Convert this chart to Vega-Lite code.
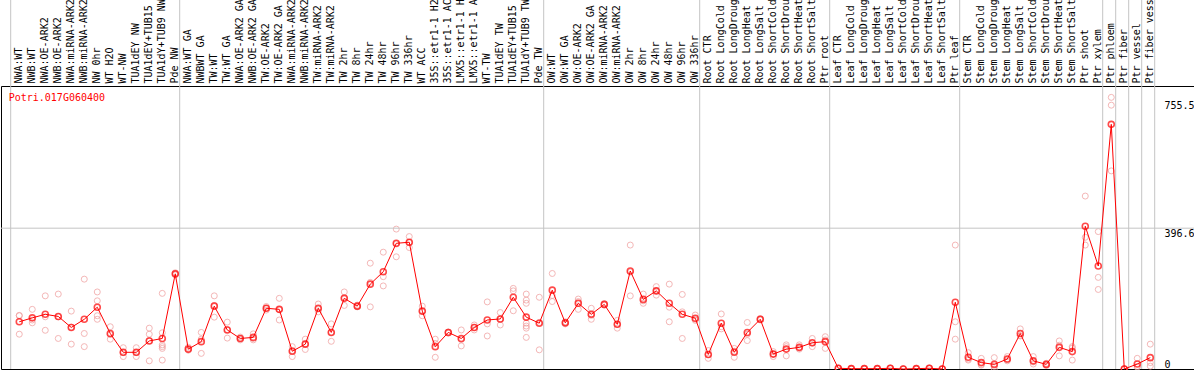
{
  "$schema": "https://vega.github.io/schema/vega-lite/v6.json",
  "width": 1193,
  "height": 283,
  "autosize": {"type": "none"},
  "padding": {"left": 1, "top": 86, "right": 0, "bottom": 1},
  "background": "white",
  "config": {"view": {"stroke": "black", "strokeWidth": 1}, "font": "DejaVu Sans Mono"},
  "resolve": {"axis": {"x": "independent", "y": "independent"}},
  "datasets": {
    "means": [
      {"category": "NWA:WT", "value": 133}, {"category": "NWB:WT", "value": 144}, {"category": "NWA:OE-ARK2", "value": 154}, {"category": "NWB:OE-ARK2", "value": 148},
      {"category": "NWA:miRNA-ARK2", "value": 117}, {"category": "NWB:miRNA-ARK2", "value": 140}, {"category": "NW 0hr", "value": 174}, {"category": "WT H2O", "value": 100},
      {"category": "WT-NW", "value": 47}, {"category": "TUA1dEY NW", "value": 47}, {"category": "TUA1dEY+TUB15 NW", "value": 79}, {"category": "TUA1dY+TUB9 NW", "value": 86},
      {"category": "Pde NW", "value": 268}, {"category": "NWA:WT GA", "value": 56}, {"category": "NWBWT GA", "value": 77}, {"category": "TW:WT", "value": 177},
      {"category": "TW:WT GA", "value": 110}, {"category": "NWA:OE-ARK2 GA", "value": 86}, {"category": "NWB:OE-ARK2 GA", "value": 89}, {"category": "TW:OE-ARK2", "value": 171},
      {"category": "TW:OE-ARK2 GA", "value": 168}, {"category": "NWA:miRNA-ARK2 GA", "value": 50}, {"category": "NWB:miRNA-ARK2 GA", "value": 70}, {"category": "TW:miRNA-ARK2", "value": 171},
      {"category": "TW:miRNA-ARK2 GA", "value": 103}, {"category": "TW 2hr", "value": 199}, {"category": "TW 8hr", "value": 177}, {"category": "TW 24hr", "value": 239},
      {"category": "TW 48hr", "value": 274}, {"category": "TW 96hr", "value": 354}, {"category": "TW 336hr", "value": 357}, {"category": "WT ACC", "value": 163},
      {"category": "35S::etr1-1 H2O", "value": 63}, {"category": "35S::etr1-1 ACC", "value": 103}, {"category": "LMX5::etr1-1 H2O", "value": 86}, {"category": "LMX5::etr1-1 ACC", "value": 117},
      {"category": "WT-TW", "value": 138}, {"category": "TUA1dEY TW", "value": 141}, {"category": "TUA1dEY+TUB15 TW", "value": 202}, {"category": "TUA1dY+TUB9 TW", "value": 146},
      {"category": "Pde TW", "value": 129}, {"category": "OW:WT", "value": 222}, {"category": "OW:WT GA", "value": 130}, {"category": "OW:OE-ARK2", "value": 185},
      {"category": "OW:OE-ARK2 GA", "value": 154}, {"category": "OW:miRNA-ARK2", "value": 182}, {"category": "OW:miRNA-ARK2 GA", "value": 126}, {"category": "OW 2hr", "value": 276},
      {"category": "OW 8hr", "value": 196}, {"category": "OW 24hr", "value": 220}, {"category": "OW 48hr", "value": 185}, {"category": "OW 96hr", "value": 154},
      {"category": "OW 336hr", "value": 143}, {"category": "Root CTR", "value": 41}, {"category": "Root LongCold", "value": 129}, {"category": "Root LongDrought", "value": 47},
      {"category": "Root LongHeat", "value": 103}, {"category": "Root LongSalt", "value": 140}, {"category": "Root ShortCold", "value": 42}, {"category": "Root ShortDrought", "value": 56},
      {"category": "Root ShortHeat", "value": 61}, {"category": "Root ShortSalt", "value": 74}, {"category": "Ptr root", "value": 77}, {"category": "Leaf CTR", "value": 2},
      {"category": "Leaf LongCold", "value": 1}, {"category": "Leaf LongDrought", "value": 1}, {"category": "Leaf LongHeat", "value": 1}, {"category": "Leaf LongSalt", "value": 2},
      {"category": "Leaf ShortCold", "value": 0}, {"category": "Leaf ShortDrought", "value": 1}, {"category": "Leaf ShortHeat", "value": 2}, {"category": "Leaf ShortSalt", "value": 0},
      {"category": "Ptr leaf", "value": 188}, {"category": "Stem CTR", "value": 33}, {"category": "Stem LongCold", "value": 18}, {"category": "Stem LongDrought", "value": 13},
      {"category": "Stem LongHeat", "value": 28}, {"category": "Stem LongSalt", "value": 100}, {"category": "Stem ShortCold", "value": 23}, {"category": "Stem ShortDrought", "value": 13},
      {"category": "Stem ShortHeat", "value": 61}, {"category": "Stem ShortSalt", "value": 49}, {"category": "Ptr shoot", "value": 402}, {"category": "Ptr xylem", "value": 290},
      {"category": "Ptr phloem", "value": 689}, {"category": "Ptr fiber", "value": 0}, {"category": "Ptr vessel", "value": 14}, {"category": "Ptr fiber vessel", "value": 32}
    ],
    "reps": [
      {"category": "NWA:WT", "value": 151}, {"category": "NWA:WT", "value": 98}, {"category": "NWA:WT", "value": 150},
      {"category": "NWB:WT", "value": 168}, {"category": "NWB:WT", "value": 138}, {"category": "NWB:WT", "value": 130},
      {"category": "NWA:OE-ARK2", "value": 206}, {"category": "NWA:OE-ARK2", "value": 109}, {"category": "NWA:OE-ARK2", "value": 147},
      {"category": "NWB:OE-ARK2", "value": 211}, {"category": "NWB:OE-ARK2", "value": 86}, {"category": "NWB:OE-ARK2", "value": 147},
      {"category": "NWA:miRNA-ARK2", "value": 163}, {"category": "NWA:miRNA-ARK2", "value": 70}, {"category": "NWA:miRNA-ARK2", "value": 118},
      {"category": "NWB:miRNA-ARK2", "value": 253}, {"category": "NWB:miRNA-ARK2", "value": 100}, {"category": "NWB:miRNA-ARK2", "value": 63},
      {"category": "NW 0hr", "value": 217}, {"category": "NW 0hr", "value": 192}, {"category": "NW 0hr", "value": 140}, {"category": "NW 0hr", "value": 150},
      {"category": "WT H2O", "value": 119}, {"category": "WT H2O", "value": 84}, {"category": "WT H2O", "value": 97},
      {"category": "WT-NW", "value": 60}, {"category": "WT-NW", "value": 35}, {"category": "WT-NW", "value": 46},
      {"category": "TUA1dEY NW", "value": 60}, {"category": "TUA1dEY NW", "value": 35}, {"category": "TUA1dEY NW", "value": 46},
      {"category": "TUA1dEY+TUB15 NW", "value": 115}, {"category": "TUA1dEY+TUB15 NW", "value": 98}, {"category": "TUA1dEY+TUB15 NW", "value": 23}, {"category": "TUA1dEY+TUB15 NW", "value": 80},
      {"category": "TUA1dY+TUB9 NW", "value": 213}, {"category": "TUA1dY+TUB9 NW", "value": 102}, {"category": "TUA1dY+TUB9 NW", "value": 68}, {"category": "TUA1dY+TUB9 NW", "value": 63}, {"category": "TUA1dY+TUB9 NW", "value": 58}, {"category": "TUA1dY+TUB9 NW", "value": 25},
      {"category": "Pde NW", "value": 268}, {"category": "Pde NW", "value": 265}, {"category": "Pde NW", "value": 271},
      {"category": "NWA:WT GA", "value": 61}, {"category": "NWA:WT GA", "value": 54}, {"category": "NWA:WT GA", "value": 53},
      {"category": "NWBWT GA", "value": 103}, {"category": "NWBWT GA", "value": 44}, {"category": "NWBWT GA", "value": 84},
      {"category": "TW:WT", "value": 206}, {"category": "TW:WT", "value": 146}, {"category": "TW:WT", "value": 179},
      {"category": "TW:WT GA", "value": 132}, {"category": "TW:WT GA", "value": 87}, {"category": "TW:WT GA", "value": 111},
      {"category": "NWA:OE-ARK2 GA", "value": 82}, {"category": "NWA:OE-ARK2 GA", "value": 90}, {"category": "NWA:OE-ARK2 GA", "value": 86},
      {"category": "NWB:OE-ARK2 GA", "value": 99}, {"category": "NWB:OE-ARK2 GA", "value": 82}, {"category": "NWB:OE-ARK2 GA", "value": 86},
      {"category": "TW:OE-ARK2", "value": 166}, {"category": "TW:OE-ARK2", "value": 176}, {"category": "TW:OE-ARK2", "value": 171},
      {"category": "TW:OE-ARK2 GA", "value": 199}, {"category": "TW:OE-ARK2 GA", "value": 138}, {"category": "TW:OE-ARK2 GA", "value": 167},
      {"category": "NWA:miRNA-ARK2 GA", "value": 63}, {"category": "NWA:miRNA-ARK2 GA", "value": 35}, {"category": "NWA:miRNA-ARK2 GA", "value": 52},
      {"category": "NWB:miRNA-ARK2 GA", "value": 84}, {"category": "NWB:miRNA-ARK2 GA", "value": 55}, {"category": "NWB:miRNA-ARK2 GA", "value": 71},
      {"category": "TW:miRNA-ARK2", "value": 183}, {"category": "TW:miRNA-ARK2", "value": 161}, {"category": "TW:miRNA-ARK2", "value": 169},
      {"category": "TW:miRNA-ARK2 GA", "value": 127}, {"category": "TW:miRNA-ARK2 GA", "value": 78}, {"category": "TW:miRNA-ARK2 GA", "value": 104},
      {"category": "TW 2hr", "value": 217}, {"category": "TW 2hr", "value": 179}, {"category": "TW 2hr", "value": 201},
      {"category": "TW 8hr", "value": 177}, {"category": "TW 8hr", "value": 175}, {"category": "TW 8hr", "value": 180},
      {"category": "TW 24hr", "value": 298}, {"category": "TW 24hr", "value": 175}, {"category": "TW 24hr", "value": 244},
      {"category": "TW 48hr", "value": 329}, {"category": "TW 48hr", "value": 260}, {"category": "TW 48hr", "value": 234},
      {"category": "TW 96hr", "value": 394}, {"category": "TW 96hr", "value": 316}, {"category": "TW 96hr", "value": 352},
      {"category": "TW 336hr", "value": 373}, {"category": "TW 336hr", "value": 342}, {"category": "TW 336hr", "value": 356},
      {"category": "WT ACC", "value": 177}, {"category": "WT ACC", "value": 150}, {"category": "WT ACC", "value": 162},
      {"category": "35S::etr1-1 H2O", "value": 84}, {"category": "35S::etr1-1 H2O", "value": 33}, {"category": "35S::etr1-1 H2O", "value": 72},
      {"category": "35S::etr1-1 ACC", "value": 101}, {"category": "35S::etr1-1 ACC", "value": 104}, {"category": "35S::etr1-1 ACC", "value": 104},
      {"category": "LMX5::etr1-1 H2O", "value": 110}, {"category": "LMX5::etr1-1 H2O", "value": 65}, {"category": "LMX5::etr1-1 H2O", "value": 83},
      {"category": "LMX5::etr1-1 ACC", "value": 110}, {"category": "LMX5::etr1-1 ACC", "value": 124}, {"category": "LMX5::etr1-1 ACC", "value": 117},
      {"category": "WT-TW", "value": 189}, {"category": "WT-TW", "value": 127}, {"category": "WT-TW", "value": 93},
      {"category": "TUA1dEY TW", "value": 159}, {"category": "TUA1dEY TW", "value": 124}, {"category": "TUA1dEY TW", "value": 140},
      {"category": "TUA1dEY+TUB15 TW", "value": 227}, {"category": "TUA1dEY+TUB15 TW", "value": 220}, {"category": "TUA1dEY+TUB15 TW", "value": 164},
      {"category": "TUA1dY+TUB9 TW", "value": 211}, {"category": "TUA1dY+TUB9 TW", "value": 194}, {"category": "TUA1dY+TUB9 TW", "value": 185}, {"category": "TUA1dY+TUB9 TW", "value": 129}, {"category": "TUA1dY+TUB9 TW", "value": 121}, {"category": "TUA1dY+TUB9 TW", "value": 115}, {"category": "TUA1dY+TUB9 TW", "value": 89},
      {"category": "Pde TW", "value": 202}, {"category": "Pde TW", "value": 54}, {"category": "Pde TW", "value": 131},
      {"category": "OW:WT", "value": 269}, {"category": "OW:WT", "value": 190}, {"category": "OW:WT", "value": 207},
      {"category": "OW:WT GA", "value": 130}, {"category": "OW:WT GA", "value": 127}, {"category": "OW:WT GA", "value": 133},
      {"category": "OW:OE-ARK2", "value": 197}, {"category": "OW:OE-ARK2", "value": 168}, {"category": "OW:OE-ARK2", "value": 190},
      {"category": "OW:OE-ARK2 GA", "value": 171}, {"category": "OW:OE-ARK2 GA", "value": 140}, {"category": "OW:OE-ARK2 GA", "value": 151},
      {"category": "OW:miRNA-ARK2", "value": 182}, {"category": "OW:miRNA-ARK2", "value": 180}, {"category": "OW:miRNA-ARK2", "value": 184},
      {"category": "OW:miRNA-ARK2 GA", "value": 115}, {"category": "OW:miRNA-ARK2 GA", "value": 137}, {"category": "OW:miRNA-ARK2 GA", "value": 126},
      {"category": "OW 2hr", "value": 349}, {"category": "OW 2hr", "value": 206}, {"category": "OW 2hr", "value": 273},
      {"category": "OW 8hr", "value": 211}, {"category": "OW 8hr", "value": 185}, {"category": "OW 8hr", "value": 192},
      {"category": "OW 24hr", "value": 232}, {"category": "OW 24hr", "value": 208}, {"category": "OW 24hr", "value": 220},
      {"category": "OW 48hr", "value": 239}, {"category": "OW 48hr", "value": 174}, {"category": "OW 48hr", "value": 133},
      {"category": "OW 96hr", "value": 210}, {"category": "OW 96hr", "value": 161}, {"category": "OW 96hr", "value": 86},
      {"category": "OW 336hr", "value": 152}, {"category": "OW 336hr", "value": 140}, {"category": "OW 336hr", "value": 137},
      {"category": "Root CTR", "value": 52}, {"category": "Root CTR", "value": 30}, {"category": "Root CTR", "value": 41},
      {"category": "Root LongCold", "value": 155}, {"category": "Root LongCold", "value": 113}, {"category": "Root LongCold", "value": 119},
      {"category": "Root LongDrought", "value": 58}, {"category": "Root LongDrought", "value": 33}, {"category": "Root LongDrought", "value": 50},
      {"category": "Root LongHeat", "value": 131}, {"category": "Root LongHeat", "value": 80}, {"category": "Root LongHeat", "value": 98},
      {"category": "Root LongSalt", "value": 140}, {"category": "Root LongSalt", "value": 138}, {"category": "Root LongSalt", "value": 142},
      {"category": "Root ShortCold", "value": 49}, {"category": "Root ShortCold", "value": 35}, {"category": "Root ShortCold", "value": 42},
      {"category": "Root ShortDrought", "value": 68}, {"category": "Root ShortDrought", "value": 37}, {"category": "Root ShortDrought", "value": 63},
      {"category": "Root ShortHeat", "value": 68}, {"category": "Root ShortHeat", "value": 56}, {"category": "Root ShortHeat", "value": 59},
      {"category": "Root ShortSalt", "value": 86}, {"category": "Root ShortSalt", "value": 63}, {"category": "Root ShortSalt", "value": 73},
      {"category": "Ptr root", "value": 82}, {"category": "Ptr root", "value": 58}, {"category": "Ptr root", "value": 91},
      {"category": "Leaf CTR", "value": 2}, {"category": "Leaf CTR", "value": 3}, {"category": "Leaf CTR", "value": 1},
      {"category": "Leaf LongCold", "value": 1}, {"category": "Leaf LongCold", "value": 2}, {"category": "Leaf LongCold", "value": 0},
      {"category": "Leaf LongDrought", "value": 1}, {"category": "Leaf LongDrought", "value": 2}, {"category": "Leaf LongDrought", "value": 0},
      {"category": "Leaf LongHeat", "value": 1}, {"category": "Leaf LongHeat", "value": 2}, {"category": "Leaf LongHeat", "value": 0},
      {"category": "Leaf LongSalt", "value": 2}, {"category": "Leaf LongSalt", "value": 3}, {"category": "Leaf LongSalt", "value": 1},
      {"category": "Leaf ShortCold", "value": 0}, {"category": "Leaf ShortCold", "value": 1}, {"category": "Leaf ShortCold", "value": 0},
      {"category": "Leaf ShortDrought", "value": 1}, {"category": "Leaf ShortDrought", "value": 2}, {"category": "Leaf ShortDrought", "value": 0},
      {"category": "Leaf ShortHeat", "value": 2}, {"category": "Leaf ShortHeat", "value": 3}, {"category": "Leaf ShortHeat", "value": 1},
      {"category": "Leaf ShortSalt", "value": 0}, {"category": "Leaf ShortSalt", "value": 1}, {"category": "Leaf ShortSalt", "value": 0},
      {"category": "Ptr leaf", "value": 349}, {"category": "Ptr leaf", "value": 133}, {"category": "Ptr leaf", "value": 84},
      {"category": "Stem CTR", "value": 46}, {"category": "Stem CTR", "value": 25}, {"category": "Stem CTR", "value": 28},
      {"category": "Stem LongCold", "value": 30}, {"category": "Stem LongCold", "value": 11}, {"category": "Stem LongCold", "value": 13},
      {"category": "Stem LongDrought", "value": 32}, {"category": "Stem LongDrought", "value": 0}, {"category": "Stem LongDrought", "value": 7},
      {"category": "Stem LongHeat", "value": 35}, {"category": "Stem LongHeat", "value": 23}, {"category": "Stem LongHeat", "value": 26},
      {"category": "Stem LongSalt", "value": 113}, {"category": "Stem LongSalt", "value": 93}, {"category": "Stem LongSalt", "value": 94},
      {"category": "Stem ShortCold", "value": 35}, {"category": "Stem ShortCold", "value": 14}, {"category": "Stem ShortCold", "value": 20},
      {"category": "Stem ShortDrought", "value": 13}, {"category": "Stem ShortDrought", "value": 10}, {"category": "Stem ShortDrought", "value": 16},
      {"category": "Stem ShortHeat", "value": 79}, {"category": "Stem ShortHeat", "value": 37}, {"category": "Stem ShortHeat", "value": 67},
      {"category": "Stem ShortSalt", "value": 63}, {"category": "Stem ShortSalt", "value": 25}, {"category": "Stem ShortSalt", "value": 59},
      {"category": "Ptr shoot", "value": 487}, {"category": "Ptr shoot", "value": 371}, {"category": "Ptr shoot", "value": 349},
      {"category": "Ptr xylem", "value": 387}, {"category": "Ptr xylem", "value": 258}, {"category": "Ptr xylem", "value": 224},
      {"category": "Ptr phloem", "value": 765}, {"category": "Ptr phloem", "value": 743}, {"category": "Ptr phloem", "value": 558},
      {"category": "Ptr fiber", "value": 0}, {"category": "Ptr fiber", "value": 1}, {"category": "Ptr fiber", "value": 0},
      {"category": "Ptr vessel", "value": 30}, {"category": "Ptr vessel", "value": 5}, {"category": "Ptr vessel", "value": 7},
      {"category": "Ptr fiber vessel", "value": 70}, {"category": "Ptr fiber vessel", "value": 18}, {"category": "Ptr fiber vessel", "value": 8}
    ],
    "groups": [
      {"start": "NWA:WT"}, {"start": "NWA:WT GA"}, {"start": "OW:WT"}, {"start": "Root CTR"}, {"start": "Leaf CTR"},
      {"start": "Stem CTR"}, {"start": "Ptr phloem"}, {"start": "Ptr fiber"}, {"start": "Ptr vessel"}, {"start": "Ptr fiber vessel"}
    ],
    "gene": [{"name": "Potri.017G060400"}]
  },
  "layer": [
    {
      "data": {"name": "reps"},
      "mark": {"type": "point", "shape": "circle", "filled": false, "color": "#f09a9a", "size": 36, "strokeWidth": 1},
      "encoding": {
        "x": {
          "field": "category", "type": "nominal", "bandPosition": 0.66,
          "scale": {
            "type": "band", "paddingInner": 0, "paddingOuter": 0, "range": [9.7, 1153.7],
            "domain": ["NWA:WT", "NWB:WT", "NWA:OE-ARK2", "NWB:OE-ARK2", "NWA:miRNA-ARK2", "NWB:miRNA-ARK2", "NW 0hr", "WT H2O", "WT-NW", "TUA1dEY NW", "TUA1dEY+TUB15 NW", "TUA1dY+TUB9 NW", "Pde NW", "NWA:WT GA", "NWBWT GA", "TW:WT", "TW:WT GA", "NWA:OE-ARK2 GA", "NWB:OE-ARK2 GA", "TW:OE-ARK2", "TW:OE-ARK2 GA", "NWA:miRNA-ARK2 GA", "NWB:miRNA-ARK2 GA", "TW:miRNA-ARK2", "TW:miRNA-ARK2 GA", "TW 2hr", "TW 8hr", "TW 24hr", "TW 48hr", "TW 96hr", "TW 336hr", "WT ACC", "35S::etr1-1 H2O", "35S::etr1-1 ACC", "LMX5::etr1-1 H2O", "LMX5::etr1-1 ACC", "WT-TW", "TUA1dEY TW", "TUA1dEY+TUB15 TW", "TUA1dY+TUB9 TW", "Pde TW", "OW:WT", "OW:WT GA", "OW:OE-ARK2", "OW:OE-ARK2 GA", "OW:miRNA-ARK2", "OW:miRNA-ARK2 GA", "OW 2hr", "OW 8hr", "OW 24hr", "OW 48hr", "OW 96hr", "OW 336hr", "Root CTR", "Root LongCold", "Root LongDrought", "Root LongHeat", "Root LongSalt", "Root ShortCold", "Root ShortDrought", "Root ShortHeat", "Root ShortSalt", "Ptr root", "Leaf CTR", "Leaf LongCold", "Leaf LongDrought", "Leaf LongHeat", "Leaf LongSalt", "Leaf ShortCold", "Leaf ShortDrought", "Leaf ShortHeat", "Leaf ShortSalt", "Ptr leaf", "Stem CTR", "Stem LongCold", "Stem LongDrought", "Stem LongHeat", "Stem LongSalt", "Stem ShortCold", "Stem ShortDrought", "Stem ShortHeat", "Stem ShortSalt", "Ptr shoot", "Ptr xylem", "Ptr phloem", "Ptr fiber", "Ptr vessel", "Ptr fiber vessel"]
          },
          "axis": {
            "orient": "top", "title": null, "domain": false, "ticks": false, "grid": false, "labels": true,
            "bandPosition": 0.66, "labelOffset": 2,
            "labelAngle": 270, "labelAlign": "left", "labelBaseline": "middle", "labelPadding": 3,
            "labelFont": "DejaVu Sans Mono", "labelFontSize": 10, "labelColor": "black",
            "labelOverlap": false, "labelLimit": 400
          }
        },
        "y": {
          "field": "value", "type": "quantitative",
          "scale": {"domain": [0, 797], "nice": false, "zero": true},
          "axis": {
            "orient": "right", "offset": -32, "title": null, "domain": false, "ticks": false, "grid": false, "labels": true,
            "values": [0, 396.6, 755.5],
            "labelExpr": "datum.value === 0 ? '0' : format(datum.value, '.1f')",
            "labelAlign": "left", "labelPadding": 2,
            "labelBaseline": {"expr": "datum.value === 0 ? 'bottom' : 'top'"},
            "labelFont": "DejaVu Sans Mono", "labelFontSize": 10, "labelColor": "black"
          }
        }
      }
    },
    {
      "data": {"name": "groups"},
      "mark": {"type": "rule", "color": "#c4c4c4", "strokeWidth": 1},
      "encoding": {
        "x": {"field": "start", "type": "nominal", "bandPosition": 0, "axis": null},
        "y": {"datum": 0, "type": "quantitative", "axis": null},
        "y2": {"datum": 1040}
      }
    },
    {
      "data": {"name": "gene"},
      "mark": {"type": "rule", "color": "#c4c4c4", "strokeWidth": 1},
      "encoding": {
        "x": {"datum": "Ptr fiber vessel", "bandPosition": 1, "axis": null},
        "y": {"datum": 0, "type": "quantitative", "axis": null},
        "y2": {"datum": 1040}
      }
    },
    {
      "data": {"name": "gene"},
      "mark": {"type": "rule", "color": "#c4c4c4", "strokeWidth": 1},
      "encoding": {
        "y": {"datum": 396.6, "type": "quantitative", "axis": null}
      }
    },
    {
      "data": {"name": "means"},
      "mark": {"type": "line", "color": "#ff0000", "strokeWidth": 1},
      "encoding": {
        "x": {"field": "category", "type": "nominal", "bandPosition": 0.66, "sort": null, "axis": null},
        "y": {"field": "value", "type": "quantitative", "axis": null}
      }
    },
    {
      "data": {"name": "means"},
      "mark": {"type": "point", "shape": "circle", "filled": false, "color": "#ff0000", "size": 36, "strokeWidth": 1.6},
      "encoding": {
        "x": {"field": "category", "type": "nominal", "bandPosition": 0.66, "axis": null},
        "y": {"field": "value", "type": "quantitative", "axis": null}
      }
    },
    {
      "data": {"name": "gene"},
      "mark": {"type": "text", "color": "#ff0000", "font": "DejaVu Sans Mono", "fontSize": 10, "align": "left", "baseline": "alphabetic", "dx": -2, "dy": 15},
      "encoding": {
        "x": {"datum": "NWA:WT", "bandPosition": 0, "axis": null},
        "y": {"datum": 797, "type": "quantitative", "axis": null},
        "text": {"field": "name"}
      }
    }
  ]
}
